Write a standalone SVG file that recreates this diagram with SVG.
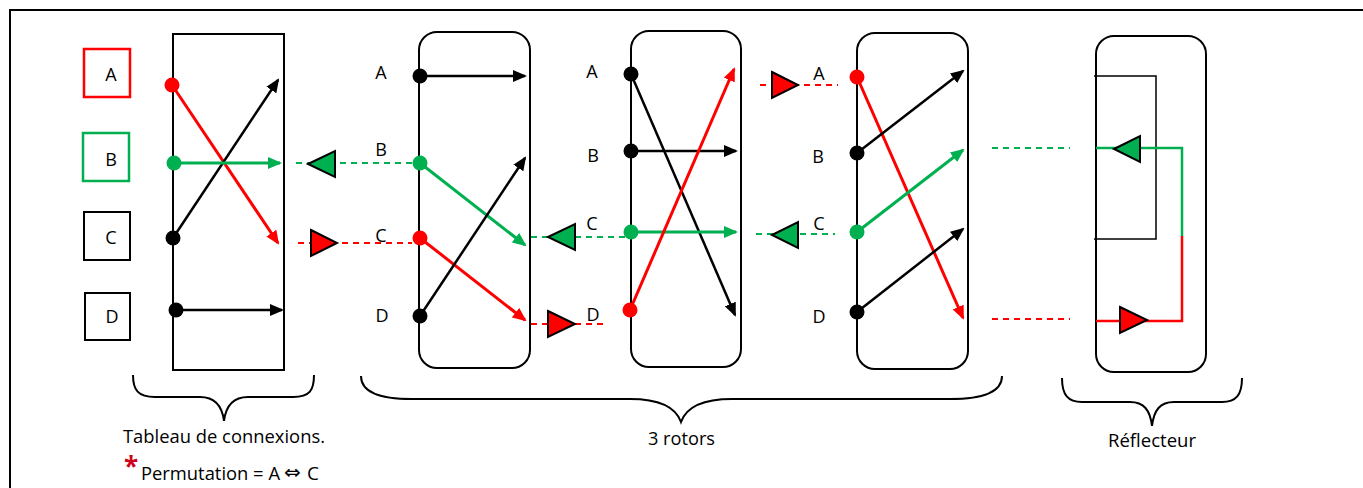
<svg xmlns="http://www.w3.org/2000/svg" width="1363" height="488" viewBox="0 0 1363 488">
<defs>
<style>
.frame{fill:none;stroke:#000;stroke-width:2}
.box{fill:#fff;stroke:#000;stroke-width:2}
.rotor{fill:#fff;stroke:#000;stroke-width:2}
.lbl{font-family:"Open Sans","Noto Sans",sans-serif;font-size:18px;fill:#000;text-anchor:middle}
.cap{font-family:"Open Sans","Noto Sans",sans-serif;font-size:19px;fill:#000}
.wk{stroke:#000;stroke-width:2.5;fill:none;marker-end:url(#ak)}
.wr{stroke:#FF0000;stroke-width:3;fill:none;marker-end:url(#ar)}
.wg{stroke:#00B050;stroke-width:3;fill:none;marker-end:url(#ag)}
.dr{stroke:#FF0000;stroke-width:2;stroke-dasharray:6 5;fill:none}
.dg{stroke:#00B050;stroke-width:2;stroke-dasharray:6 5;fill:none}
.tr{fill:#FF0000;stroke:#000;stroke-width:2;stroke-linejoin:miter}
.tg{fill:#00B050;stroke:#000;stroke-width:2;stroke-linejoin:miter}
.brace{fill:none;stroke:#000;stroke-width:2}
</style>
<marker id="ak" viewBox="0 0 14 12" refX="12" refY="6" markerWidth="14" markerHeight="12" markerUnits="userSpaceOnUse" orient="auto"><path d="M0,0 L14,6 L0,12 z" fill="#000"/></marker>
<marker id="ar" viewBox="0 0 14 12" refX="12" refY="6" markerWidth="14" markerHeight="12" markerUnits="userSpaceOnUse" orient="auto"><path d="M0,0 L14,6 L0,12 z" fill="#FF0000"/></marker>
<marker id="ag" viewBox="0 0 14 12" refX="12" refY="6" markerWidth="14" markerHeight="12" markerUnits="userSpaceOnUse" orient="auto"><path d="M0,0 L14,6 L0,12 z" fill="#00B050"/></marker>
</defs>
<rect width="1363" height="488" fill="#fff"/>
<path class="frame" d="M10,488 L10,10 L1363,10"/>

<g id="key-A"><rect x="84" y="49" width="46" height="48" fill="#fff" stroke="#FF0000" stroke-width="2.5"/><text class="lbl" x="111" y="81">A</text></g>
<g id="key-B"><rect x="83" y="133" width="46" height="48" fill="#fff" stroke="#00B050" stroke-width="2.5"/><text class="lbl" x="111" y="166">B</text></g>
<g id="key-C"><rect class="box" x="84" y="212" width="46" height="48"/><text class="lbl" x="111" y="244">C</text></g>
<g id="key-D"><rect class="box" x="85" y="293" width="45" height="47"/><text class="lbl" x="112" y="323">D</text></g>

<g id="tableau"><rect class="box" x="173" y="34" width="111" height="336"/></g>
<g id="rotor1"><rect class="rotor" x="419" y="32" width="111" height="336" rx="18"/>
<text class="lbl" x="381" y="79">A</text><text class="lbl" x="381" y="156">B</text><text class="lbl" x="381" y="242">C</text><text class="lbl" x="382" y="322">D</text></g>
<g id="rotor2"><rect class="rotor" x="631" y="31" width="110" height="336" rx="18"/>
<text class="lbl" x="592" y="78">A</text><text class="lbl" x="593" y="162">B</text><text class="lbl" x="592" y="230">C</text><text class="lbl" x="593" y="321">D</text></g>
<g id="rotor3"><rect class="rotor" x="857" y="33" width="111" height="336" rx="18"/>
<text class="lbl" x="819" y="80">A</text><text class="lbl" x="818" y="163">B</text><text class="lbl" x="819" y="230">C</text><text class="lbl" x="819" y="323">D</text></g>
<g id="reflector"><rect class="rotor" x="1096" y="36" width="110" height="336" rx="18"/>
<path d="M1094,76 L1156,76 L1156,239 L1094,239" fill="none" stroke="#000" stroke-width="1.5"/></g>

<g id="connectors">
<line class="wr" x1="172" y1="85" x2="278" y2="243"/>
<line class="wk" x1="173" y1="238" x2="278" y2="80"/>
<line class="wg" x1="174" y1="163" x2="280" y2="163"/>
<line class="wk" x1="176" y1="310" x2="282" y2="310"/>
<line class="wk" x1="420" y1="76" x2="525" y2="76"/>
<line class="wg" x1="420" y1="163" x2="525" y2="245"/>
<line class="wr" x1="420" y1="238" x2="525" y2="320"/>
<line class="wk" x1="420" y1="316" x2="525" y2="158"/>
<line class="wk" x1="631" y1="74" x2="735" y2="315"/>
<line class="wk" x1="631" y1="151" x2="736" y2="151"/>
<line class="wg" x1="631" y1="232" x2="736" y2="232"/>
<line class="wr" x1="630" y1="310" x2="734" y2="69"/>
<line class="wr" x1="857" y1="77" x2="963" y2="318"/>
<line class="wk" x1="857" y1="153" x2="963" y2="71"/>
<line class="wg" x1="857" y1="232" x2="963" y2="150"/>
<line class="wk" x1="857" y1="312" x2="963" y2="229"/>
<line class="dg" x1="296" y1="163" x2="414" y2="163"/>
<line class="dr" x1="298" y1="243" x2="412" y2="243"/>
<line class="dg" x1="531" y1="237" x2="628" y2="237"/>
<line class="dr" x1="531" y1="324" x2="607" y2="324"/>
<line class="dr" x1="760" y1="85" x2="838" y2="85"/>
<line class="dg" x1="756" y1="234" x2="835" y2="234"/>
<line class="dg" x1="992" y1="148" x2="1070" y2="148"/>
<line class="dr" x1="992" y1="319" x2="1070" y2="319"/>
<path d="M1096,148 L1182,148 L1182,236" fill="none" stroke="#00B050" stroke-width="2.5"/>
<path d="M1182,236 L1182,321 L1096,321" fill="none" stroke="#FF0000" stroke-width="2.5"/>
<polygon class="tg" points="308,164 335,151 335,177"/>
<polygon class="tr" points="311,230 337,243 311,256"/>
<polygon class="tg" points="548,237 575,224 575,250"/>
<polygon class="tr" points="548,311 575,324 548,337"/>
<polygon class="tr" points="772,72 798,85 772,98"/>
<polygon class="tg" points="772,235 798,222 798,248"/>
<polygon class="tg" points="1114,149 1140,136 1140,162"/>
<polygon class="tr" points="1120,307 1147,320 1120,333"/>
<circle cx="172" cy="85" r="7.5" fill="#FF0000"/>
<circle cx="174" cy="163" r="7.5" fill="#00B050"/>
<circle cx="173" cy="238" r="7.5" fill="#000"/>
<circle cx="176" cy="310" r="7.5" fill="#000"/>
<circle cx="420" cy="76" r="7.5" fill="#000"/>
<circle cx="420" cy="163" r="7.5" fill="#00B050"/>
<circle cx="420" cy="238" r="7.5" fill="#FF0000"/>
<circle cx="420" cy="316" r="7.5" fill="#000"/>
<circle cx="631" cy="74" r="7.5" fill="#000"/>
<circle cx="631" cy="151" r="7.5" fill="#000"/>
<circle cx="631" cy="232" r="7.5" fill="#00B050"/>
<circle cx="630" cy="310" r="7.5" fill="#FF0000"/>
<circle cx="857" cy="77" r="7.5" fill="#FF0000"/>
<circle cx="857" cy="153" r="7.5" fill="#000"/>
<circle cx="857" cy="232" r="7.5" fill="#00B050"/>
<circle cx="857" cy="312" r="7.5" fill="#000"/>
</g>

<g id="braces">
<path class="brace" d="M133,375 C133,390 138,397 155,397 L200,397 C214,397 222,405 224,421 C226,405 234,397 248,397 L293,397 C310,397 314,390 314,375"/>
<path class="brace" d="M361,376 C361,392 380,399 412,399 L630,399 C660,399 676,408 681,422 C686,408 702,399 732,399 L950,399 C982,399 1002,392 1002,376"/>
<path class="brace" d="M1062,378 C1062,395 1068,402 1082,402 L1130,402 C1144,402 1150,410 1152,426 C1154,410 1160,402 1174,402 L1222,402 C1236,402 1242,395 1242,378"/>
</g>
<g id="captions">
<text class="cap" x="123" y="443" textLength="202" lengthAdjust="spacingAndGlyphs">Tableau de connexions.</text>
<text x="124" y="476" font-family="Open Sans,Noto Sans,sans-serif" font-size="26" font-weight="bold" fill="#D0021B">*</text>
<text class="cap" x="141" y="480" textLength="139" lengthAdjust="spacingAndGlyphs">Permutation = A</text>
<text x="284" y="479" font-family="DejaVu Sans,sans-serif" font-size="20" fill="#000">⇔</text>
<text class="cap" x="307" y="480">C</text>
<text class="cap" x="648" y="445" textLength="67" lengthAdjust="spacingAndGlyphs">3 rotors</text>
<text class="cap" x="1108" y="447" textLength="88" lengthAdjust="spacingAndGlyphs">Réflecteur</text>
</g>
</svg>
